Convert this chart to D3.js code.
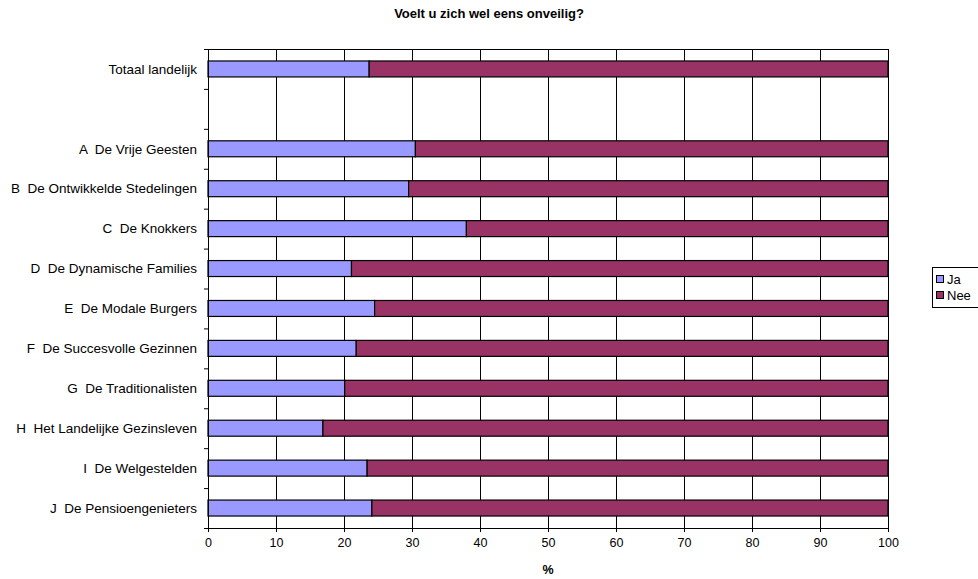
<!DOCTYPE html>
<html>
<head>
<meta charset="utf-8">
<script src="https://cdn.jsdelivr.net/npm/d3@7"></script>
<style>
  body { margin: 0; background: #fff; }
  svg { font-family: "Liberation Sans", Arial, sans-serif; }
  text { white-space: pre; }
</style>
</head>
<body>
<svg id="chart" width="978" height="579"></svg>
<script>
// categories top to bottom, "" is the empty row
const categories = [
  "Totaal landelijk", "",
  "A  De Vrije Geesten", "B  De Ontwikkelde Stedelingen", "C  De Knokkers",
  "D  De Dynamische Families", "E  De Modale Burgers", "F  De Succesvolle Gezinnen",
  "G  De Traditionalisten", "H  Het Landelijke Gezinsleven", "I  De Welgestelden",
  "J  De Pensioengenieters"
];
const ja  = [23.7, null, 30.5, 29.5, 38.0, 21.1, 24.5, 21.8, 20.1, 16.9, 23.4, 24.1];
const nee = [76.3, null, 69.5, 70.5, 62.0, 78.9, 75.5, 78.2, 79.9, 83.1, 76.6, 75.9];
const xTicks = [0, 10, 20, 30, 40, 50, 60, 70, 80, 90, 100];
const seriesNames = ["Ja", "Nee"];
const colors = ["#9999ff", "#993366"];

const svg = d3.select("#chart");
const margin = { top: 49, left: 208, right: 90, bottom: 51 };
const width = 978 - margin.left - margin.right;   // 680
const height = 579 - margin.top - margin.bottom;  // 479

const g = svg.append("g").attr("transform", `translate(${margin.left},${margin.top})`);

const xs = d3.scaleLinear().domain([0, 100]).range([0, width]);
const ys = d3.scaleBand().domain(d3.range(categories.length)).range([0, height]).paddingInner(0.6).paddingOuter(0.3);

// title
svg.append("text")
  .attr("x", 489).attr("y", 18)
  .attr("text-anchor", "middle")
  .attr("font-size", 13).attr("font-weight", "bold")
  .text("Voelt u zich wel eens onveilig?");

// vertical gridlines
g.append("g").selectAll("line").data(xTicks.slice(1)).join("line")
  .attr("x1", d => xs(d) + 0.5).attr("x2", d => xs(d) + 0.5)
  .attr("y1", 0).attr("y2", height)
  .attr("stroke", "#000").attr("stroke-width", 1);
g.append("line")
  .attr("x1", 0).attr("x2", width).attr("y1", 0.5).attr("y2", 0.5)
  .attr("stroke", "#000");

// stacked bars
const stacked = categories.map((c, i) => ({ i, ja: ja[i], nee: nee[i] })).filter(d => d.ja != null);
const rows = g.append("g").selectAll("g").data(stacked).join("g");
rows.append("rect")
  .attr("x", xs(0)).attr("y", d => ys(d.i))
  .attr("width", d => xs(d.ja)).attr("height", ys.bandwidth())
  .attr("fill", colors[0]).attr("stroke", "#000").attr("stroke-width", 1.2);
rows.append("rect")
  .attr("x", d => xs(d.ja)).attr("y", d => ys(d.i))
  .attr("width", d => xs(d.ja + d.nee) - xs(d.ja)).attr("height", ys.bandwidth())
  .attr("fill", colors[1]).attr("stroke", "#000").attr("stroke-width", 1.2);

// x axis
g.append("g")
  .attr("transform", `translate(0,${height})`)
  .call(d3.axisBottom(xs).tickValues(xTicks).tickSize(4).tickSizeOuter(0).tickPadding(6))
  .call(a => a.selectAll("text").attr("font-size", 12.5).attr("fill", "#000").attr("font-family", "Liberation Sans, Arial, sans-serif"))
  .call(a => a.select(".domain").attr("stroke", "#000"));

// y axis: ticks at category boundaries
const step = height / categories.length;
const yAx = g.append("g");
yAx.append("line").attr("x1", 0.5).attr("x2", 0.5).attr("y1", 0).attr("y2", height).attr("stroke", "#000");
yAx.selectAll("line.tk").data(d3.range(categories.length + 1)).join("line")
  .attr("class", "tk")
  .attr("x1", -4).attr("x2", 0)
  .attr("y1", d => d * step + 0.5).attr("y2", d => d * step + 0.5)
  .attr("stroke", "#000");
yAx.selectAll("text").data(categories).join("text")
  .attr("x", -11)
  .attr("y", (d, i) => ys(i) + ys.bandwidth() / 2)
  .attr("dy", "0.35em")
  .attr("text-anchor", "end")
  .attr("font-size", 13.5)
  .text(d => d);

// x-axis title
svg.append("text")
  .attr("x", margin.left + width / 2).attr("y", 574)
  .attr("text-anchor", "middle")
  .attr("font-size", 12.5).attr("font-weight", "bold")
  .text("%");

// legend
const lg = svg.append("g").attr("transform", "translate(932,267)");
lg.append("rect").attr("x", 0.5).attr("y", 0.5).attr("width", 46).attr("height", 40)
  .attr("fill", "#fff").attr("stroke", "#000");
seriesNames.forEach((s, i) => {
  lg.append("rect").attr("x", 4.5).attr("y", 8.5 + i * 16).attr("width", 7).attr("height", 7)
    .attr("fill", colors[i]).attr("stroke", "#000");
  lg.append("text").attr("x", 15).attr("y", 12 + i * 16).attr("dy", "0.35em")
    .attr("font-size", 13).text(s);
});
</script>
</body>
</html>
